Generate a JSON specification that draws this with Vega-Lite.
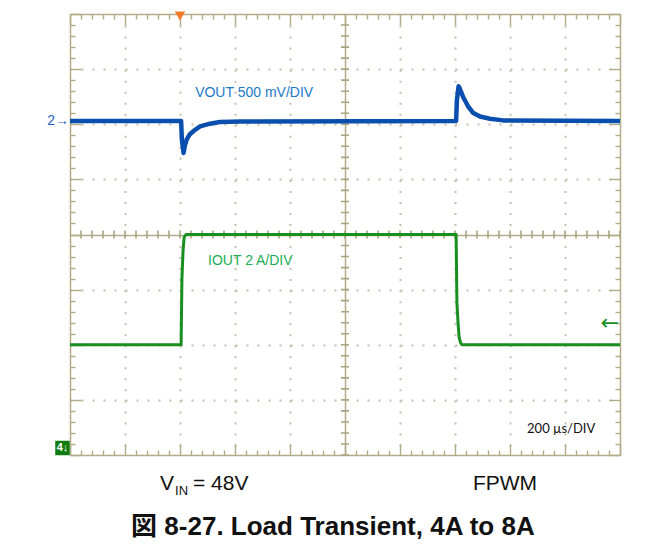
{
  "$schema": "https://vega.github.io/schema/vega-lite/v6.json",
  "width": 550,
  "height": 441,
  "autosize": "none",
  "padding": {"left": 70, "top": 14, "right": 41, "bottom": 99},
  "background": "white",
  "config": {"view": {"stroke": null}, "font": "Liberation Sans"},
  "data": {"values": [{}]},
  "datasets": {
    "vout": [
      {"t_us": 0, "div": 6.06}, {"t_us": 404, "div": 6.06}, {"t_us": 407, "div": 5.71}, {"t_us": 413, "div": 5.48},
      {"t_us": 418, "div": 5.62}, {"t_us": 425, "div": 5.73}, {"t_us": 436, "div": 5.82}, {"t_us": 455, "div": 5.90},
      {"t_us": 473, "div": 5.96}, {"t_us": 509, "div": 6.01}, {"t_us": 545, "div": 6.04}, {"t_us": 618, "div": 6.05},
      {"t_us": 1404, "div": 6.06}, {"t_us": 1407, "div": 6.44}, {"t_us": 1413, "div": 6.69}, {"t_us": 1418, "div": 6.64},
      {"t_us": 1429, "div": 6.50}, {"t_us": 1447, "div": 6.33}, {"t_us": 1465, "div": 6.21}, {"t_us": 1491, "div": 6.14},
      {"t_us": 1527, "div": 6.10}, {"t_us": 1575, "div": 6.07}, {"t_us": 2000, "div": 6.06}
    ],
    "iout": [
      {"t_us": 0, "div": 2.0}, {"t_us": 404, "div": 2.0}, {"t_us": 405, "div": 2.4}, {"t_us": 407, "div": 3.2},
      {"t_us": 411, "div": 3.7}, {"t_us": 415, "div": 3.95}, {"t_us": 422, "div": 4.0}, {"t_us": 1404, "div": 4.0},
      {"t_us": 1405, "div": 3.6}, {"t_us": 1407, "div": 2.76}, {"t_us": 1411, "div": 2.4}, {"t_us": 1415, "div": 2.14},
      {"t_us": 1420, "div": 2.04}, {"t_us": 1425, "div": 2.0}, {"t_us": 2000, "div": 2.0}
    ]
  },
  "resolve": {"axis": {"x": "independent", "y": "independent"}},
  "layer": [
    {
      "mark": {"type": "rule", "color": "#aba47f", "strokeWidth": 8, "strokeDash": [1.6, 9.425], "strokeDashOffset": 0.8},
      "encoding": {
        "x": {"datum": 1000, "type": "quantitative", "scale": {"domain": [0, 2000], "nice": false, "zero": false}, "axis": null},
        "y": {"datum": 0, "type": "quantitative", "scale": {"domain": [0, 8], "nice": false, "zero": false}, "axis": null},
        "y2": {"datum": 8}
      }
    },
    {
      "mark": {"type": "rule", "color": "#aba47f", "strokeWidth": 8, "strokeDash": [1.6, 9.4], "strokeDashOffset": 0.8},
      "encoding": {
        "x": {"datum": 0, "type": "quantitative", "scale": {"domain": [0, 2000], "nice": false, "zero": false}, "axis": null},
        "x2": {"datum": 2000},
        "y": {"datum": 4, "type": "quantitative", "scale": {"domain": [0, 8], "nice": false, "zero": false}, "axis": null}
      }
    },
    {
      "data": {"name": "vout"},
      "mark": {"type": "line", "color": "#0b4fae", "strokeWidth": 4.5, "strokeJoin": "round"},
      "encoding": {
        "x": {"field": "t_us", "type": "quantitative", "scale": {"domain": [0, 2000], "nice": false, "zero": false},
          "axis": {"orient": "bottom", "values": [0,40,80,120,160,200,240,280,320,360,400,440,480,520,560,600,640,680,720,760,800,840,880,920,960,1000,1040,1080,1120,1160,1200,1240,1280,1320,1360,1400,1440,1480,1520,1560,1600,1640,1680,1720,1760,1800,1840,1880,1920,1960,2000],
            "labels": false, "title": null, "domain": true, "domainColor": "#b2ab87", "domainWidth": 1.5,
            "tickColor": "#b2ab87", "tickWidth": 1.4,
            "tickSize": {"condition": {"test": "datum.value % 200 === 0", "value": -11}, "value": -5},
            "grid": true,
            "gridColor": {"condition": {"test": "datum.value === 1000", "value": "#b2ab87"}, "value": "#c4c0ab"},
            "gridDash": {"condition": {"test": "datum.value === 1000", "value": []}, "value": [2, 9.025]},
            "gridWidth": {"condition": {"test": "datum.value === 1000", "value": 1.5}, "value": 2},
            "gridOpacity": {"condition": {"test": "datum.value % 200 === 0 && datum.value > 0 && datum.value < 2000", "value": 1}, "value": 0}}},
        "y": {"field": "div", "type": "quantitative", "scale": {"domain": [0, 8], "nice": false, "zero": false},
          "axis": {"orient": "left", "values": [0,0.2,0.4,0.6,0.8,1,1.2,1.4,1.6,1.8,2,2.2,2.4,2.6,2.8,3,3.2,3.4,3.6,3.8,4,4.2,4.4,4.6,4.8,5,5.2,5.4,5.6,5.8,6,6.2,6.4,6.6,6.8,7,7.2,7.4,7.6,7.8,8],
            "labels": false, "title": null, "domain": true, "domainColor": "#b2ab87", "domainWidth": 1.5,
            "tickColor": "#b2ab87", "tickWidth": 1.4,
            "tickSize": {"condition": {"test": "datum.value % 1 === 0", "value": -11}, "value": -5},
            "grid": true,
            "gridColor": {"condition": {"test": "datum.value === 4", "value": "#b2ab87"}, "value": "#c4c0ab"},
            "gridDash": {"condition": {"test": "datum.value === 4", "value": []}, "value": [2, 9]},
            "gridWidth": {"condition": {"test": "datum.value === 4", "value": 1.5}, "value": 2},
            "gridOpacity": {"condition": {"test": "datum.value % 1 === 0 && datum.value > 0 && datum.value < 8", "value": 1}, "value": 0}}}
      }
    },
    {
      "data": {"name": "iout"},
      "mark": {"type": "line", "color": "#17901f", "strokeWidth": 3, "strokeJoin": "round"},
      "encoding": {
        "x": {"field": "t_us", "type": "quantitative", "scale": {"domain": [0, 2000], "nice": false, "zero": false},
          "axis": {"orient": "top", "values": [0,40,80,120,160,200,240,280,320,360,400,440,480,520,560,600,640,680,720,760,800,840,880,920,960,1000,1040,1080,1120,1160,1200,1240,1280,1320,1360,1400,1440,1480,1520,1560,1600,1640,1680,1720,1760,1800,1840,1880,1920,1960,2000],
            "labels": false, "title": null, "domain": true, "domainColor": "#b2ab87", "domainWidth": 1.5,
            "tickColor": "#b2ab87", "tickWidth": 1.4, "grid": false,
            "tickSize": {"condition": {"test": "datum.value % 200 === 0", "value": -11}, "value": -5}}},
        "y": {"field": "div", "type": "quantitative", "scale": {"domain": [0, 8], "nice": false, "zero": false},
          "axis": {"orient": "right", "values": [0,0.2,0.4,0.6,0.8,1,1.2,1.4,1.6,1.8,2,2.2,2.4,2.6,2.8,3,3.2,3.4,3.6,3.8,4,4.2,4.4,4.6,4.8,5,5.2,5.4,5.6,5.8,6,6.2,6.4,6.6,6.8,7,7.2,7.4,7.6,7.8,8],
            "labels": false, "title": null, "domain": true, "domainColor": "#b2ab87", "domainWidth": 1.5,
            "tickColor": "#b2ab87", "tickWidth": 1.4, "grid": false,
            "tickSize": {"condition": {"test": "datum.value % 1 === 0", "value": -11}, "value": -5}}}
      }
    },
    {
      "mark": {"type": "text", "text": "VOUT 500 mV/DIV", "align": "left", "baseline": "middle", "fontSize": 14, "color": "#2179c9"},
      "encoding": {
        "x": {"datum": 455, "type": "quantitative", "scale": {"domain": [0, 2000], "nice": false, "zero": false}, "axis": null},
        "y": {"datum": 6.57, "type": "quantitative", "scale": {"domain": [0, 8], "nice": false, "zero": false}, "axis": null}
      }
    },
    {
      "mark": {"type": "text", "text": "IOUT 2 A/DIV", "align": "left", "baseline": "middle", "fontSize": 14, "color": "#22ad55"},
      "encoding": {
        "x": {"datum": 502, "type": "quantitative", "scale": {"domain": [0, 2000], "nice": false, "zero": false}, "axis": null},
        "y": {"datum": 3.52, "type": "quantitative", "scale": {"domain": [0, 8], "nice": false, "zero": false}, "axis": null}
      }
    },
    {
      "mark": {"type": "text", "text": "200 µs/DIV", "align": "left", "baseline": "middle", "fontSize": 13, "font": "Lato", "color": "#111111"},
      "encoding": {
        "x": {"datum": 1662, "type": "quantitative", "scale": {"domain": [0, 2000], "nice": false, "zero": false}, "axis": null},
        "y": {"datum": 0.47, "type": "quantitative", "scale": {"domain": [0, 8], "nice": false, "zero": false}, "axis": null}
      }
    },
    {
      "mark": {"type": "text", "text": "V", "align": "left", "baseline": "middle", "fontSize": 21, "color": "#111111"},
      "encoding": {
        "x": {"datum": 327, "type": "quantitative", "scale": {"domain": [0, 2000], "nice": false, "zero": false}, "axis": null},
        "y": {"datum": -0.53, "type": "quantitative", "scale": {"domain": [0, 8], "nice": false, "zero": false}, "axis": null}
      }
    },
    {
      "mark": {"type": "text", "text": "IN", "align": "left", "baseline": "middle", "fontSize": 13, "color": "#111111"},
      "encoding": {
        "x": {"datum": 382, "type": "quantitative", "scale": {"domain": [0, 2000], "nice": false, "zero": false}, "axis": null},
        "y": {"datum": -0.66, "type": "quantitative", "scale": {"domain": [0, 8], "nice": false, "zero": false}, "axis": null}
      }
    },
    {
      "mark": {"type": "text", "text": "= 48V", "align": "left", "baseline": "middle", "fontSize": 21, "color": "#111111"},
      "encoding": {
        "x": {"datum": 447, "type": "quantitative", "scale": {"domain": [0, 2000], "nice": false, "zero": false}, "axis": null},
        "y": {"datum": -0.53, "type": "quantitative", "scale": {"domain": [0, 8], "nice": false, "zero": false}, "axis": null}
      }
    },
    {
      "mark": {"type": "text", "text": "FPWM", "align": "left", "baseline": "middle", "fontSize": 21, "color": "#111111"},
      "encoding": {
        "x": {"datum": 1465, "type": "quantitative", "scale": {"domain": [0, 2000], "nice": false, "zero": false}, "axis": null},
        "y": {"datum": -0.53, "type": "quantitative", "scale": {"domain": [0, 8], "nice": false, "zero": false}, "axis": null}
      }
    },
    {
      "mark": {"type": "text", "text": "図 8-27. Load Transient, 4A to 8A", "align": "center", "baseline": "middle", "fontSize": 26, "fontWeight": "bold", "font": "Liberation Sans, Noto Sans CJK JP", "color": "#111111"},
      "encoding": {
        "x": {"datum": 956, "type": "quantitative", "scale": {"domain": [0, 2000], "nice": false, "zero": false}, "axis": null},
        "y": {"datum": -1.31, "type": "quantitative", "scale": {"domain": [0, 8], "nice": false, "zero": false}, "axis": null}
      }
    },
    {
      "mark": {"type": "point", "shape": "triangle-down", "filled": true, "size": 110, "color": "#f47b2c", "opacity": 1, "yOffset": 2},
      "encoding": {
        "x": {"datum": 400, "type": "quantitative", "scale": {"domain": [0, 2000], "nice": false, "zero": false}, "axis": null},
        "y": {"datum": 8, "type": "quantitative", "scale": {"domain": [0, 8], "nice": false, "zero": false}, "axis": null}
      }
    },
    {
      "mark": {"type": "text", "text": "2→", "align": "right", "baseline": "middle", "fontSize": 14, "dx": -1, "color": "#1f5fbf"},
      "encoding": {
        "x": {"datum": 0, "type": "quantitative", "scale": {"domain": [0, 2000], "nice": false, "zero": false}, "axis": null},
        "y": {"datum": 6.06, "type": "quantitative", "scale": {"domain": [0, 8], "nice": false, "zero": false}, "axis": null}
      }
    },
    {
      "mark": {"type": "point", "shape": "square", "filled": true, "size": 210, "color": "#107c10", "opacity": 1, "xOffset": -7.5, "yOffset": -7},
      "encoding": {
        "x": {"datum": 0, "type": "quantitative", "scale": {"domain": [0, 2000], "nice": false, "zero": false}, "axis": null},
        "y": {"datum": 0, "type": "quantitative", "scale": {"domain": [0, 8], "nice": false, "zero": false}, "axis": null}
      }
    },
    {
      "mark": {"type": "text", "text": "4↓", "align": "center", "baseline": "middle", "fontSize": 11, "fontWeight": "bold", "dx": -7.5, "dy": -7, "color": "#ffffff"},
      "encoding": {
        "x": {"datum": 0, "type": "quantitative", "scale": {"domain": [0, 2000], "nice": false, "zero": false}, "axis": null},
        "y": {"datum": 0, "type": "quantitative", "scale": {"domain": [0, 8], "nice": false, "zero": false}, "axis": null}
      }
    },
    {
      "mark": {"type": "text", "text": "←", "align": "right", "baseline": "middle", "fontSize": 22, "font": "DejaVu Sans", "dx": -1, "color": "#17901f"},
      "encoding": {
        "x": {"datum": 2000, "type": "quantitative", "scale": {"domain": [0, 2000], "nice": false, "zero": false}, "axis": null},
        "y": {"datum": 2.39, "type": "quantitative", "scale": {"domain": [0, 8], "nice": false, "zero": false}, "axis": null}
      }
    }
  ]
}
